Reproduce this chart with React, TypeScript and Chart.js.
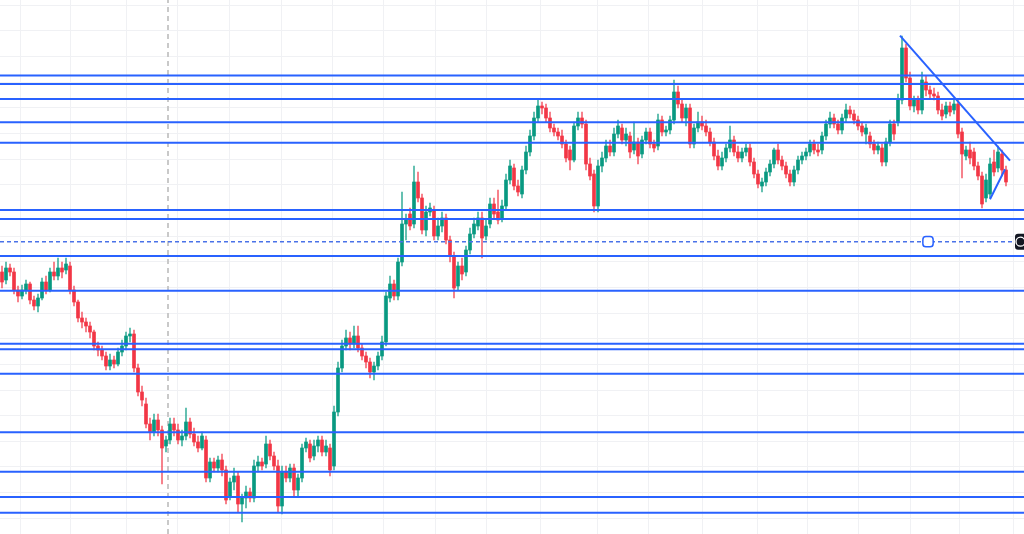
import React, { useEffect, useRef } from "react";
import { Chart, registerables } from "chart.js";

Chart.register(...registerables);

// OHLC price data, one candle per bar (index = bar number)
const opens = [
  328,320,332,328,310,304,310,316,300,294,
  302,318,310,328,324,332,330,334,310,298,
  282,278,274,268,254,250,244,234,240,236,
  248,254,264,266,232,208,196,176,168,180,
  170,154,160,176,170,160,164,178,166,158,
  152,160,122,138,132,140,130,104,118,124,
  96,102,108,102,134,138,136,156,144,134,
  94,128,122,132,110,122,152,156,144,154,
  160,148,152,134,188,232,254,262,256,264,
  252,244,238,228,234,244,258,302,316,304,
  338,376,386,376,418,402,370,388,390,364,
  374,382,360,344,314,334,328,350,366,374,
  382,364,376,396,388,382,394,420,432,414,
  406,430,448,464,482,494,492,482,472,468,
  464,456,450,440,474,482,476,436,426,394,
  434,442,454,448,466,472,460,464,450,458,
  446,460,468,456,454,480,468,470,480,508,
  496,482,492,456,472,478,474,468,458,444,
  434,442,452,460,448,442,448,452,438,426,
  414,418,428,436,450,440,434,426,418,430,
  440,444,448,456,450,450,464,476,482,476,
  470,482,490,486,480,474,466,464,456,450,
  452,438,458,476,478,500,552,522,494,500,
  490,518,510,506,504,490,486,494,490,496,
  468,444,450,448,434,424,402,406,438,432,
  446,430,
];
const highs = [
  334,338,336,332,314,315,320,318,304,306,
  322,324,332,338,342,338,342,338,314,300,
  288,282,278,270,258,254,248,246,244,252,
  260,268,272,270,236,214,202,182,186,186,
  174,164,182,182,176,170,192,182,172,164,
  168,164,142,142,144,146,134,122,132,128,
  106,114,112,140,144,142,164,160,148,140,
  134,134,136,136,126,156,162,160,160,164,
  164,160,156,194,238,260,270,268,274,274,
  256,248,242,238,248,264,308,324,320,342,
  408,386,392,434,428,406,394,397,394,382,
  388,386,364,348,338,342,354,372,382,388,
  388,380,402,402,410,400,426,440,436,420,
  434,454,470,488,500,498,496,488,476,472,
  470,460,454,478,488,488,480,442,430,440,
  448,460,460,472,480,476,472,468,478,462,
  464,472,472,460,486,484,474,484,520,514,
  500,496,496,476,488,484,480,472,462,450,
  448,456,474,464,454,452,456,456,442,430,
  422,432,440,452,456,444,438,430,434,444,
  448,452,460,460,456,468,480,488,486,480,
  486,496,494,490,484,478,476,468,460,458,
  456,462,480,480,506,564,556,528,504,504,
  528,524,514,512,508,496,498,498,500,500,
  472,454,458,452,438,428,426,442,450,454,
  450,434,
];
const lows = [
  312,316,324,306,298,301,306,296,290,288,
  300,306,308,320,320,322,326,306,294,278,
  272,268,262,250,244,240,230,230,232,234,
  244,250,258,228,204,194,172,160,164,164,
  116,148,156,164,156,154,160,162,154,148,
  150,118,118,128,128,124,96,100,110,88,
  78,92,98,98,128,130,132,140,130,88,
  86,118,118,104,104,118,148,138,140,148,
  144,144,124,130,184,228,250,250,252,248,
  240,232,222,220,230,240,254,298,300,300,
  334,360,370,372,398,366,364,384,360,360,
  368,356,338,302,310,320,324,346,362,370,
  342,360,372,382,376,378,390,416,410,404,
  402,426,444,460,478,486,478,468,464,460,
  452,438,430,438,470,472,430,420,388,388,
  428,438,444,444,462,456,454,442,446,436,
  442,456,452,448,450,464,464,466,476,492,
  478,474,452,452,468,470,464,454,440,430,
  430,438,448,444,438,438,444,434,422,412,
  408,414,424,432,436,430,422,414,414,426,
  436,440,444,446,444,446,460,472,472,466,
  466,478,482,476,470,464,456,452,446,446,
  434,434,454,460,474,496,518,490,488,486,
  486,504,502,500,486,480,482,484,486,462,
  422,440,436,430,420,392,398,402,424,428,
  424,414,
];
const closes = [
  318,332,328,310,304,310,316,300,294,302,
  318,310,328,324,332,328,336,310,298,282,
  278,274,268,254,250,244,234,240,236,248,
  254,264,266,232,208,200,176,168,180,170,
  152,160,176,170,160,164,178,166,158,152,
  164,122,138,132,140,130,100,118,124,96,
  102,108,102,134,138,134,156,144,134,94,
  128,122,132,110,122,152,158,142,154,160,
  148,154,130,188,232,254,262,256,264,252,
  244,238,228,234,244,258,304,316,304,338,
  376,380,374,418,402,370,388,392,364,374,
  382,360,344,312,334,326,350,366,376,382,
  362,374,396,386,380,394,420,434,414,408,
  430,448,464,482,494,492,482,472,468,464,
  456,442,440,474,482,476,436,424,394,434,
  442,454,448,466,474,460,466,448,458,444,
  460,468,456,452,480,468,470,480,508,496,
  482,492,456,472,478,474,468,458,444,434,
  442,452,460,448,442,448,452,438,426,416,
  418,428,436,450,440,434,426,418,430,440,
  444,448,456,450,448,464,476,482,476,470,
  482,490,486,480,474,468,472,456,450,454,
  438,458,476,466,500,552,522,494,500,490,
  520,510,506,504,490,484,494,488,496,466,
  446,450,442,434,424,396,420,436,428,448,
  430,418,
];

// Drawn horizontal support / resistance levels (price)
const horizontalLevels = [524.5, 516, 501, 477.7, 457.3, 390, 381, 344, 309.3, 256.3, 250.7, 226.3, 167.7, 128.3, 103, 87.3];
const dashedLevel = 358.3;
const dashedHandleBar = 231.5;

// Trend lines: [bar, price] endpoints
const trendLineA = [ { bar: 224.5, price: 564.3 }, { bar: 252, price: 439.3 } ];
const trendLineB = [ { bar: 247, price: 400.7 }, { bar: 250.75, price: 430.7 } ];

// Session separator bars (vertical grid) and marker line
const sessionBars = [4.5, 17.2, 31.2, 43.75, 56.75, 69.9, 82.5, 95.25, 108.25, 121, 134.5, 148.75, 161.5, 175, 188.75, 201.25, 214, 227, 239.25, 252.75];
const markerBar = 41.5;

// Price grid
const priceGridStart = 594.7;
const priceGridStep = 25.65;

const X_MIN = -0.5;
const X_MAX = 255.5;
const Y_MIN = 66;
const Y_MAX = 600;

const UP = "#089981";
const DOWN = "#f23645";
const BLUE = "#2962ff";

export default function App() {
  const ref = useRef<HTMLCanvasElement | null>(null);

  useEffect(() => {
    const canvas = ref.current;
    if (!canvas) return;

    const n = closes.length;
    const colorFor = (i: number) => (closes[i] >= opens[i] ? UP : DOWN);
    const wickColorFor = (i: number) => (closes[i] >= opens[i] ? "rgba(8,153,129,0.75)" : "rgba(242,54,69,0.75)");
    const wickData = Array.from({ length: n }, (_, i) => ({ x: i, y: [lows[i], highs[i]] }));
    const bodyData = Array.from({ length: n }, (_, i) => ({ x: i, y: [opens[i], closes[i]] }));

    const levelSets: any[] = horizontalLevels.map((lv) => ({
      type: "line",
      data: [ { x: X_MIN, y: lv }, { x: X_MAX, y: lv } ],
      borderColor: BLUE,
      borderWidth: 2,
      pointRadius: 0,
      order: 0,
    }));

    const gridLevels: number[] = [];
    for (let v = priceGridStart; v > Y_MIN; v -= priceGridStep) gridLevels.push(v);

    const labelPlugin = {
      id: "rightLabel",
      afterDatasetsDraw(chart: any) {
        const { ctx, chartArea, scales } = chart;
        const y = scales.y.getPixelForValue(dashedLevel);
        const x = chartArea.right - 9;
        ctx.save();
        ctx.fillStyle = "#131722";
        ctx.beginPath();
        (ctx as any).roundRect(x, y - 8, 16, 16, 3);
        ctx.fill();
        ctx.strokeStyle = "#ffffff";
        ctx.lineWidth = 1.3;
        ctx.beginPath();
        ctx.arc(x + 5.5, y, 4.5, 0, Math.PI * 2);
        ctx.stroke();
        ctx.restore();
      },
    };

    const chart = new Chart(canvas, {
      type: "bar",
      data: {
        datasets: [
          ...levelSets,
          {
            type: "line",
            data: [ { x: X_MIN, y: dashedLevel }, { x: X_MAX, y: dashedLevel } ],
            borderColor: "#4a72e8",
            borderWidth: 1.4,
            borderDash: [4, 3],
            pointRadius: 0,
            order: 0,
          },
          {
            type: "line",
            data: trendLineA.map((p) => ({ x: p.bar, y: p.price })),
            borderColor: BLUE,
            borderWidth: 2,
            pointRadius: 0,
            order: 0,
          },
          {
            type: "line",
            data: trendLineB.map((p) => ({ x: p.bar, y: p.price })),
            borderColor: BLUE,
            borderWidth: 2,
            pointRadius: 0,
            order: 0,
          },
          {
            type: "scatter",
            data: [ { x: dashedHandleBar, y: dashedLevel } ],
            pointStyle: "rectRounded",
            pointRadius: 6,
            pointBackgroundColor: "#ffffff",
            pointBorderColor: BLUE,
            pointBorderWidth: 1.5,
            order: -1,
          },
          {
            type: "bar",
            data: bodyData as any,
            backgroundColor: (c: any) => colorFor(c.dataIndex),
            barThickness: 3,
            minBarLength: 1,
            grouped: false,
            borderWidth: 0,
            order: 1,
          },
          {
            type: "bar",
            data: wickData as any,
            backgroundColor: (c: any) => wickColorFor(c.dataIndex),
            barThickness: 1,
            grouped: false,
            borderWidth: 0,
            order: 2,
          },
          {
            type: "line",
            data: [ { x: markerBar, y: Y_MIN }, { x: markerBar, y: Y_MAX } ],
            borderColor: "#c9c9c9",
            borderWidth: 2,
            borderDash: [5, 4],
            pointRadius: 0,
            order: 3,
          },
        ],
      },
      options: {
        responsive: false,
        animation: false,
        events: [],
        layout: { padding: 0, autoPadding: false },
        plugins: { legend: { display: false }, tooltip: { enabled: false } },
        scales: {
          x: {
            type: "linear",
            offset: false,
            min: X_MIN,
            max: X_MAX,
            afterBuildTicks: (scale: any) => {
              scale.ticks = sessionBars.map((v) => ({ value: v }));
            },
            ticks: { display: false },
            grid: { color: "#f0f1f4", drawTicks: false, lineWidth: 1, offset: false },
            border: { display: false },
          },
          y: {
            type: "linear",
            min: Y_MIN,
            max: Y_MAX,
            grace: 0,
            afterBuildTicks: (scale: any) => {
              scale.ticks = gridLevels.map((v) => ({ value: v }));
            },
            ticks: { display: false },
            grid: { color: "#f0f1f4", drawTicks: false, lineWidth: 1 },
            border: { display: false },
          },
        },
      } as any,
      plugins: [labelPlugin],
    });

    return () => chart.destroy();
  }, []);

  return (
    <div style={{ position: "fixed", left: 0, top: 0, width: 1024, height: 534, background: "#ffffff" }}>
      <canvas ref={ref} width={1024} height={534} style={{ display: "block" }} />
    </div>
  );
}
